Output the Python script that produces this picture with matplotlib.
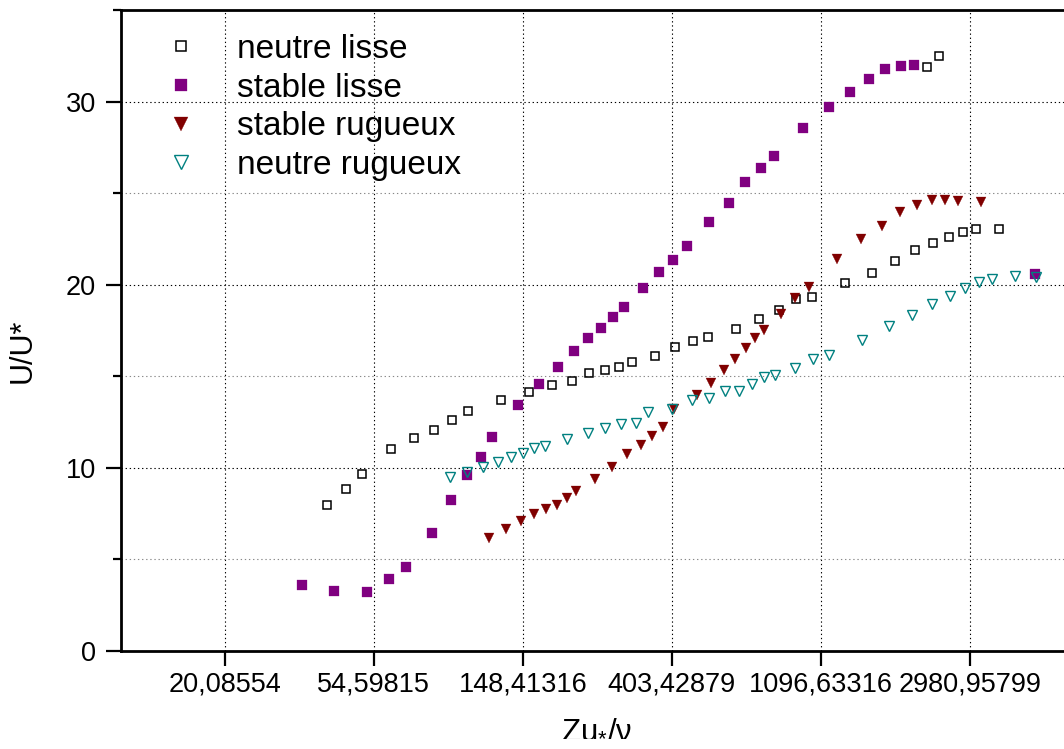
import numpy as np
import matplotlib
matplotlib.use("Agg")
import matplotlib.pyplot as plt
from matplotlib.ticker import FixedLocator, FixedFormatter, NullLocator, MultipleLocator

plt.rcParams['font.family'] = ['Liberation Sans', 'DejaVu Sans']
plt.rcParams['mathtext.fontset'] = 'custom'
plt.rcParams['mathtext.rm'] = 'Liberation Sans'
plt.rcParams['mathtext.it'] = 'Liberation Sans'

# ---- data ----
neutre_lisse_x = [39.9, 45.2, 50.6, 61.2, 71.4, 81.8, 92.3, 102.7, 128.2, 154.7, 180.1, 206.0,
                  232.0, 257.6, 283.0, 308.7, 360.3, 411.1, 463.9, 515.4, 619.0, 722.3, 826.0,
                  927.6, 1032.8, 1288.8, 1544.6, 1807.1, 2066.5, 2321.3, 2583.9, 2838.5, 3097.0,
                  3613.8, 2233.9, 2427.7]
neutre_lisse_y = [7.98, 8.82, 9.67, 11.02, 11.62, 12.06, 12.60, 13.08, 13.68, 14.15, 14.50, 14.75,
                  15.20, 15.35, 15.53, 15.78, 16.11, 16.60, 16.94, 17.16, 17.58, 18.13, 18.62,
                  19.20, 19.33, 20.08, 20.64, 21.30, 21.89, 22.30, 22.62, 22.86, 23.04,
                  23.04, 31.90, 32.48]

stable_lisse_x = [33.74, 41.93, 52.07, 60.35, 67.78, 80.70, 91.67, 102.06, 111.88, 120.70, 143.70,
                  165.42, 187.92, 208.79, 230.43, 251.44, 271.79, 292.60, 331.7, 369.3, 406.5,
                  445.6, 517.5, 591.8, 659.8, 732.1, 800.4, 974.9, 1155.3, 1332.7, 1510.8,
                  1689.9, 1876.3, 2052.9, 4622.6]
stable_lisse_y = [3.60, 3.27, 3.22, 3.93, 4.60, 6.44, 8.25, 9.60, 10.60, 11.71, 13.42,
                  14.58, 15.51, 16.37, 17.09, 17.62, 18.21, 18.78, 19.80, 20.68, 21.33,
                  22.11, 23.44, 24.47, 25.59, 26.35, 27.02, 28.53, 29.73, 30.51, 31.21,
                  31.77, 31.93, 31.97, 20.57]

stable_rugueux_x = [118.05, 132.93, 146.6, 159.97, 173.04, 186.66, 199.88, 211.62, 241.5, 269.98,
                    298.5, 327.3, 352.5, 379.3, 408.4, 478.7, 525.9, 572.3, 617.8, 661.9,
                    706.5, 750.5, 838.8, 922.7, 1010.2, 1218.9, 1434.8, 1648.5, 1863.7,
                    2084.8, 2305.8, 2527.6, 2757.7, 3218.0]
stable_rugueux_y = [6.19, 6.64, 7.08, 7.49, 7.73, 7.95, 8.35, 8.72, 9.37, 10.02,
                    10.75, 11.24, 11.75, 12.23, 13.19, 13.98, 14.66, 15.37, 15.97, 16.57,
                    17.08, 17.51, 18.39, 19.26, 19.90, 21.39, 22.49, 23.19, 23.97,
                    24.35, 24.62, 24.60, 24.59, 24.50]

neutre_rugueux_x = [90.88, 102.33, 113.92, 125.65, 136.82, 148.99, 160.4, 171.88, 200.15, 229.83,
                    258.27, 287.55, 316.5, 344.6, 403.75, 461.7, 518.2, 577.7, 632.9, 692.4,
                    750.5, 807.9, 924.0, 1037.6, 1159.1, 1444.5, 1731.3, 2025.5, 2310.3,
                    2606.6, 2882.6, 3174.7, 3464.5, 4042.5, 4631.8]
neutre_rugueux_y = [9.48, 9.77, 10.05, 10.31, 10.60, 10.82, 11.09, 11.22, 11.55, 11.93,
                    12.15, 12.38, 12.44, 13.04, 13.22, 13.68, 13.81, 14.17, 14.20, 14.60,
                    14.95, 15.07, 15.44, 15.93, 16.15, 17.00, 17.75, 18.35, 18.95,
                    19.37, 19.80, 20.13, 20.31, 20.46, 20.42]

x_ticks = [20.08554, 54.59815, 148.41316, 403.42879, 1096.63316, 2980.95799]
x_tick_labels = ["20,08554", "54,59815", "148,41316", "403,42879", "1096,63316", "2980,95799"]
y_ticks = [0, 10, 20, 30]
labels = ["neutre lisse", "stable lisse", "stable rugueux", "neutre rugueux"]

# ---- figure ----
W, H = 1064, 749
fig = plt.figure(figsize=(W / 100, H / 100), dpi=100)
ax = fig.add_axes([120.7 / W, (H - 651) / H, 1029.7 / W, 641 / H])
ax.set_xscale('log')
ax.set_xlim(10, 10000)
ax.set_ylim(0, 35)

ax.plot(neutre_lisse_x, neutre_lisse_y, ls='none', marker='s', ms=6.0, mfc='none',
        mec='black', mew=1.1, label=labels[0])
ax.plot(stable_lisse_x, stable_lisse_y, ls='none', marker='s', ms=7.0, mfc='#800080',
        mec='#800080', mew=0.2, label=labels[1])
ax.plot(stable_rugueux_x, stable_rugueux_y, ls='none', marker='v', ms=7.8, mfc='#800000',
        mec='#800000', mew=0.2, label=labels[2])
ax.plot(neutre_rugueux_x, neutre_rugueux_y, ls='none', marker='v', ms=7.8, mfc='none',
        mec='#008080', mew=1.0, label=labels[3])

# ticks
ax.xaxis.set_major_locator(FixedLocator(x_ticks))
ax.xaxis.set_major_formatter(FixedFormatter(x_tick_labels))
ax.xaxis.set_minor_locator(NullLocator())
ax.yaxis.set_major_locator(FixedLocator(y_ticks))
ax.yaxis.set_minor_locator(MultipleLocator(5))

ax.tick_params(axis='both', which='major', direction='out', length=11, width=1.6,
               labelsize=19.5, color='black')
ax.tick_params(axis='y', which='major', pad=7)
ax.tick_params(axis='x', which='major', pad=4)
ax.tick_params(axis='y', which='minor', direction='out', length=5.5, width=1.6)
ax.tick_params(top=False, right=False)

for s in ['left', 'bottom', 'top']:
    ax.spines[s].set_linewidth(2.0)
ax.spines['right'].set_visible(False)

# grid
ax.grid(True, which='major', axis='both', color='black', linestyle=(0, (1.2, 2.5)), linewidth=0.8)
ax.grid(True, which='minor', axis='y', color='#888888', linestyle=(0, (1.2, 2.5)), linewidth=0.8)
ax.set_axisbelow(True)

ax.set_xlabel('Zu$_{*}$/ν', fontsize=22.5, va='baseline')
ax.xaxis.set_label_coords((597 - 120.7) / 1029.7, (651 - 736) / 641)
ax.set_ylabel('U/U*', fontsize=22)
ax.yaxis.set_label_coords((38 - 120.7) / 1029.7, (651 - 351) / 641)

leg = ax.legend(loc='upper left', bbox_to_anchor=(150 / W, 1 - 34 / H),
                bbox_transform=fig.transFigure, frameon=False, fontsize=24,
                markerscale=1.3, handlelength=1.85, handletextpad=0.75,
                labelspacing=0.23, borderpad=0, borderaxespad=0)

fig.savefig('out.png', dpi=100)
